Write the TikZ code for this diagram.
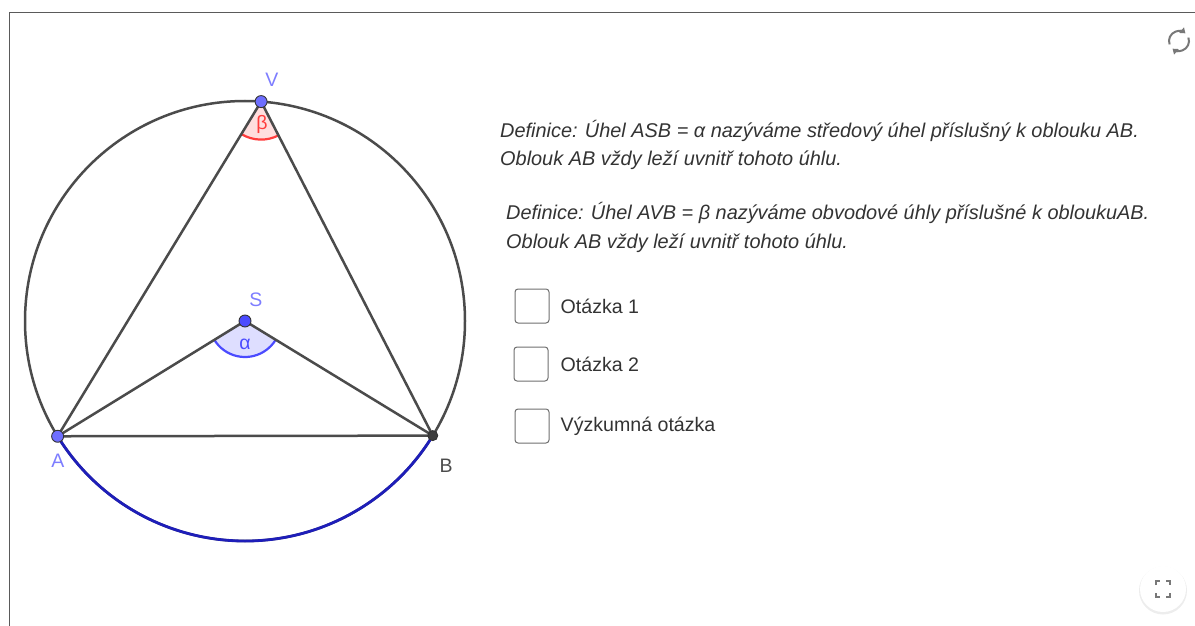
\documentclass[tikz,border=0pt]{standalone}
\usepackage{fontspec}
\setmainfont{Liberation Sans}
\usetikzlibrary{calc,positioning,arrows.meta}
\definecolor{linegray}{RGB}{75,75,75}
\definecolor{framegray}{RGB}{90,90,90}
\definecolor{textgray}{RGB}{51,51,51}
\definecolor{boxgray}{RGB}{110,110,110}
\definecolor{arcblue}{RGB}{30,30,185}
\definecolor{ptblue}{RGB}{110,110,255}
\definecolor{sblue}{RGB}{75,75,255}
\definecolor{labblue}{RGB}{125,125,255}
\definecolor{alphafill}{RGB}{222,222,255}
\definecolor{betafill}{RGB}{255,222,222}
\definecolor{betared}{RGB}{255,60,60}
\definecolor{icongray}{RGB}{120,120,120}
\begin{document}
\begin{tikzpicture}[x=1pt,y=-1pt,
    seg/.style={linegray,line width=2.5pt},
    ptlabel/.style={inner sep=0pt,font=\fontsize{19.5}{22}\selectfont},
    deftext/.style={anchor=base west,inner sep=0pt,text=textgray,font=\fontsize{19.9}{22}\selectfont\itshape},
    checkbox/.style={draw=boxgray,line width=1pt,rounded corners=3pt,minimum size=34pt,inner sep=0pt},
    choice/.style={inner sep=0pt,text=textgray,font=\fontsize{19.6}{22}\selectfont}]
    \useasboundingbox (0,0) rectangle (1195,626);

    % Frame
    \draw[framegray,line width=1pt] (9,626) -- (9,13) -- (1195,13);

    % Coordinates
    \coordinate (S) at (245,321);
    \coordinate (A) at ($(S)+(211.6:220pt)$);
    \coordinate (B) at ($(S)+(328.6:220pt)$);
    \coordinate (V) at ($(S)+(85.8:220pt)$);

    % Angle sectors
    \fill[alphafill] (S) -- ($(S)+(211.6:36pt)$) arc[start angle=211.6,end angle=328.6,radius=36pt] -- cycle;
    \fill[betafill] (V) -- ($(V)+(238.7:38pt)$) arc[start angle=238.7,end angle=297.2,radius=38pt] -- cycle;
    \draw[sblue,line width=2.2pt] ($(S)+(211.6:36pt)$) arc[start angle=211.6,end angle=328.6,radius=36pt];
    \draw[betared,line width=2.2pt] ($(V)+(238.7:38pt)$) arc[start angle=238.7,end angle=297.2,radius=38pt];

    % Circle and arc AB
    \draw[seg] (S) circle (220pt);
    \draw[arcblue,line width=2.8pt] (A) arc[start angle=211.6,end angle=328.6,radius=220pt];

    % Drawing the triangles
    \draw[seg] (A) -- (V) -- (B) -- cycle;
    \draw[seg] (A) -- (S) -- (B);

    % Points
    \filldraw[fill=ptblue,draw=black!80,line width=0.9pt] (V) circle (6pt);
    \filldraw[fill=ptblue,draw=black!80,line width=0.9pt] (A) circle (6pt);
    \filldraw[fill=sblue,draw=black!80,line width=0.9pt] (S) circle (6pt);
    \filldraw[fill=linegray!80!black,draw=black!80,line width=0.9pt] (B) circle (5pt);

    % Labels
    \node[ptlabel,text=labblue] (labV) at (272,80) {V};
    \node[ptlabel,text=labblue] (labS) at (256,300) {S};
    \node[ptlabel,text=labblue] (labA) at (58,461) {A};
    \node[ptlabel,text=linegray] (labB) at (446,466) {B};
    \node[ptlabel,text=sblue] (alpha) at (245,344) {α};
    \node[ptlabel,text=betared] (beta) at (262,124) {β};

    % Definitions
    \node[deftext] (defa) at (500,137) {Definice: Úhel ASB = α nazýváme středový úhel příslušný k oblouku AB.};
    \node[deftext] (defb) at (500,165) {Oblouk AB vždy leží uvnitř tohoto úhlu.};
    \node[deftext] (defc) at (506,219) {Definice: Úhel AVB = β nazýváme obvodové úhly příslušné k obloukuAB.};
    \node[deftext] (defd) at (506,248) {Oblouk AB vždy leží uvnitř tohoto úhlu.};

    % Check boxes
    \node[checkbox] (box1) at (532,306) {};
    \node[checkbox] (box2) at (531,364) {};
    \node[checkbox] (box3) at (532,426) {};
    \node[choice,right=11pt of box1] (q1) {Otázka 1};
    \node[choice,right=12pt of box2] (q2) {Otázka 2};
    \node[choice,right=11pt of box3] (q3) {Výzkumná otázka};

    % Refresh icon
    \coordinate (ic) at (1179,41);
    \draw[icongray,line width=2pt,-{Triangle[length=5pt,width=7pt]}] ($(ic)+(200:10pt)$) arc[start angle=200,end angle=50,radius=10pt];
    \draw[icongray,line width=2pt,-{Triangle[length=5pt,width=7pt]}] ($(ic)+(20:10pt)$) arc[start angle=20,end angle=-130,radius=10pt];

    % Fullscreen button
    \fill[black!7] (1163,590.5) circle (24pt);
    \node[circle,fill=white,minimum size=46pt,inner sep=0pt] (fsbtn) at (1163,589) {};
    \draw[icongray,line width=2pt] ($(fsbtn)+(-7,-4)$) -- ++(0,-4) -- ++(4,0);
    \draw[icongray,line width=2pt] ($(fsbtn)+(3,-8)$) -- ++(4,0) -- ++(0,4);
    \draw[icongray,line width=2pt] ($(fsbtn)+(-7,4)$) -- ++(0,4) -- ++(4,0);
    \draw[icongray,line width=2pt] ($(fsbtn)+(3,8)$) -- ++(4,0) -- ++(0,-4);
\end{tikzpicture}
\end{document}
